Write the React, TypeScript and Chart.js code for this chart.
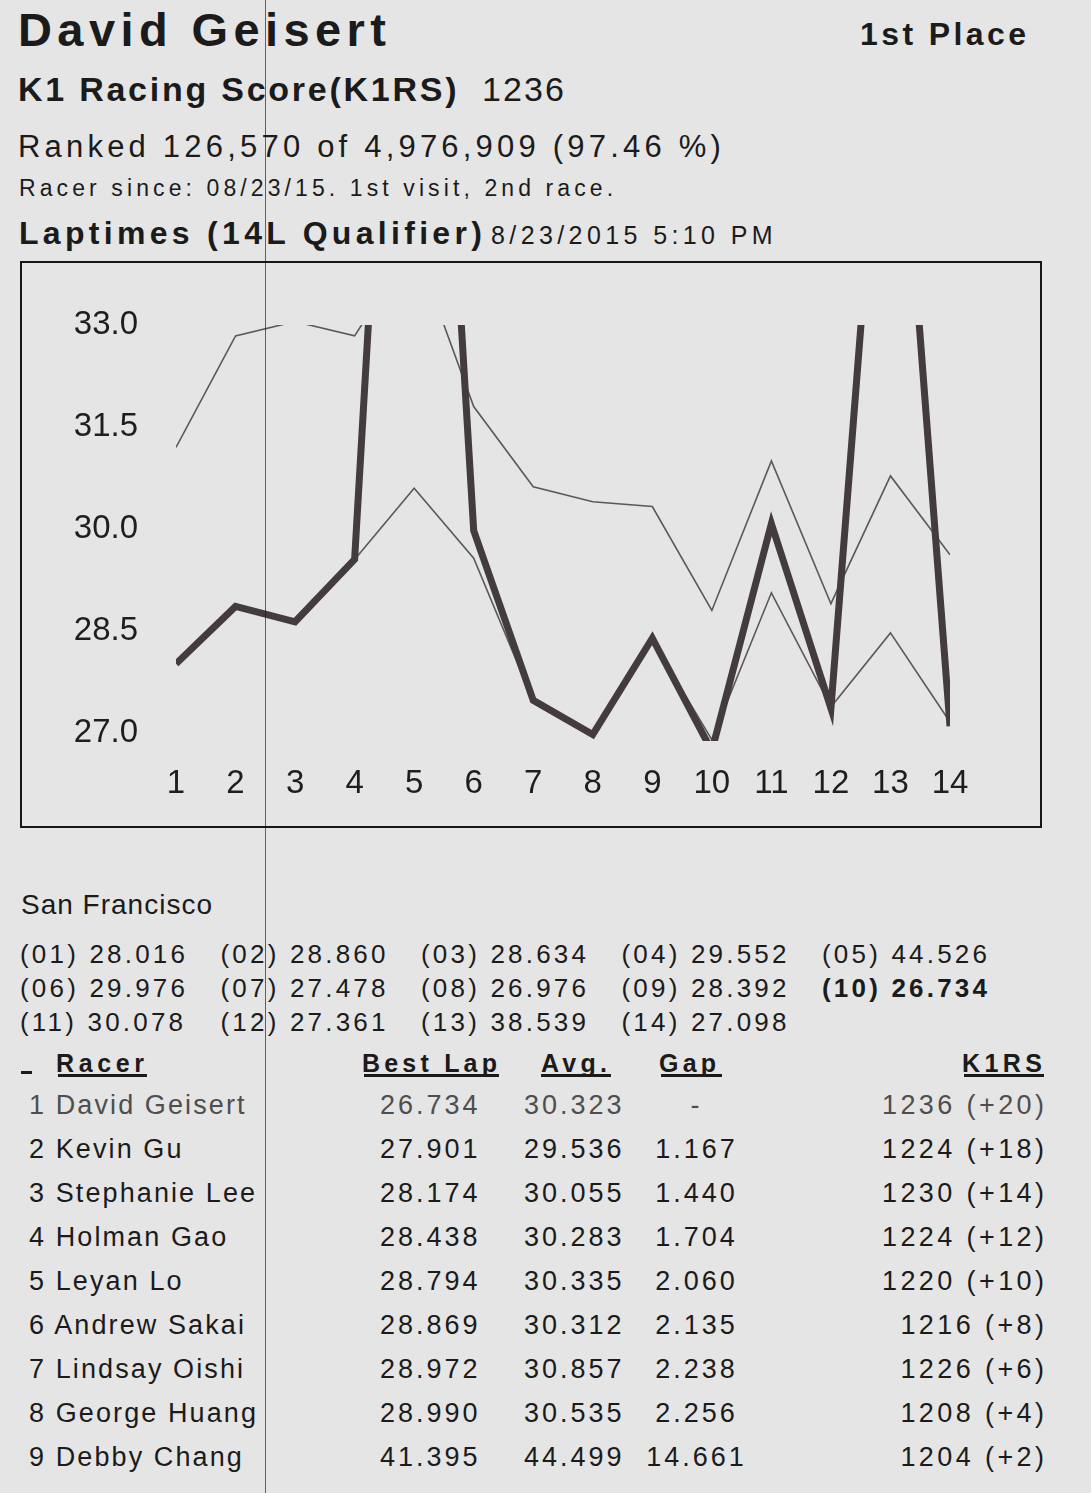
import React, { useEffect, useRef } from "react";
import { Chart, registerables } from "chart.js";

Chart.register(...registerables);

// ---- chart data ----
const lapNumbers = [1, 2, 3, 4, 5, 6, 7, 8, 9, 10, 11, 12, 13, 14];
const geisertLaps = [28.016, 28.86, 28.634, 29.552, 44.526, 29.976, 27.478, 26.976, 28.392, 26.734, 30.078, 27.361, 38.539, 27.098];
const upperThinLaps = [31.2, 32.84, 33.05, 32.84, 34.2, 31.8, 30.62, 30.4, 30.33, 28.8, 31.0, 28.9, 30.78, 29.62];
const lowerThinLaps = [null, null, null, 29.55, 30.6, 29.57, 27.47, 26.98, 28.36, 26.9, 29.06, 27.38, 28.47, 27.16];
const yTickValues = [27.0, 28.5, 30.0, 31.5, 33.0];
const yMin = 26.88;
const yMax = 33.0;

// ---- results table ----
const racerNames = ["David Geisert", "Kevin Gu", "Stephanie Lee", "Holman Gao", "Leyan Lo", "Andrew Sakai", "Lindsay Oishi", "George Huang", "Debby Chang"];
const bestLaps = ["26.734", "27.901", "28.174", "28.438", "28.794", "28.869", "28.972", "28.990", "41.395"];
const avgLaps = ["30.323", "29.536", "30.055", "30.283", "30.335", "30.312", "30.857", "30.535", "44.499"];
const gaps = ["-", "1.167", "1.440", "1.704", "2.060", "2.135", "2.238", "2.256", "14.661"];
const k1rsScores = ["1236 (+20)", "1224 (+18)", "1230 (+14)", "1224 (+12)", "1220 (+10)", "1216 (+8)", "1226 (+6)", "1208 (+4)", "1204 (+2)"];

const FONT = '"Liberation Sans", Arial, sans-serif';
const INK = "#1b1b1b";

type TProps = {
  x: number;
  b: number;
  size: number;
  ls?: number;
  bold?: boolean;
  color?: string;
  align?: "left" | "right" | "center";
  w?: number;
  children: React.ReactNode;
};

function T({ x, b, size, ls = 0, bold = false, color = INK, align = "left", w = 300, children }: TProps) {
  const top = b - 0.847 * size;
  let left = x;
  let width: number | undefined = undefined;
  let paddingLeft = 0;
  if (align === "right") {
    left = x + ls - w;
    width = w;
  } else if (align === "center") {
    left = x - w / 2;
    width = w;
    paddingLeft = ls;
  }
  return (
    <div
      style={{
        position: "absolute",
        left,
        top,
        width,
        paddingLeft,
        boxSizing: "border-box",
        textAlign: align,
        fontFamily: FONT,
        fontSize: size,
        lineHeight: `${size}px`,
        fontWeight: bold ? 700 : 400,
        letterSpacing: ls,
        whiteSpace: "nowrap",
        color,
      }}
    >
      {children}
    </div>
  );
}

function Underline({ x1, x2, y }: { x1: number; x2: number; y: number }) {
  return <div style={{ position: "absolute", left: x1, top: y, width: x2 - x1, height: 3, background: INK }} />;
}

function LapChart() {
  const ref = useRef<HTMLCanvasElement | null>(null);
  useEffect(() => {
    if (!ref.current) return;
    const toPts = (arr: (number | null)[]) => lapNumbers.map((x, i) => ({ x, y: arr[i] }));
    const tickFont = { family: FONT, size: 33 };
    const chart = new Chart(ref.current, {
      type: "line",
      data: {
        datasets: [
          {
            label: "David Geisert",
            data: toPts(geisertLaps) as any,
            borderColor: "#433b3f",
            borderWidth: 7,
            pointRadius: 0,
            tension: 0,
          },
          {
            label: "Upper",
            data: toPts(upperThinLaps) as any,
            borderColor: "#595959",
            borderWidth: 1.6,
            pointRadius: 0,
            tension: 0,
          },
          {
            label: "Lower",
            data: toPts(lowerThinLaps) as any,
            borderColor: "#595959",
            borderWidth: 1.6,
            pointRadius: 0,
            tension: 0,
            spanGaps: false,
          },
        ],
      },
      options: {
        animation: false,
        responsive: false,
        layout: { padding: { left: 0, right: 90, top: 62, bottom: 0 } },
        plugins: { legend: { display: false }, tooltip: { enabled: false } },
        scales: {
          x: {
            type: "linear",
            min: 1,
            max: 14,
            grid: { display: false, drawTicks: false },
            border: { display: false },
            afterBuildTicks: (s: any) => {
              s.ticks = lapNumbers.map((v) => ({ value: v }));
            },
            afterFit: (s: any) => {
              s.height = 85;
            },
            ticks: {
              padding: 23,
              autoSkip: false,
              maxRotation: 0,
              font: tickFont,
              color: "#1e1e1e",
              callback: (v: any) => String(v),
            },
          },
          y: {
            type: "linear",
            min: yMin,
            max: yMax,
            grid: { display: false, drawTicks: false },
            border: { display: false },
            afterBuildTicks: (s: any) => {
              s.ticks = yTickValues.map((v) => ({ value: v }));
            },
            afterFit: (s: any) => {
              s.width = 154;
            },
            ticks: {
              padding: 38,
              autoSkip: false,
              font: tickFont,
              color: "#1e1e1e",
              callback: (v: any) => Number(v).toFixed(1),
            },
          },
        },
      },
    });
    return () => chart.destroy();
  }, []);
  return <canvas ref={ref} width={1018} height={563} style={{ display: "block" }} />;
}

export default function App() {
  const bestIdx = geisertLaps.indexOf(Math.min(...geisertLaps));
  return (
    <div
      style={{
        position: "absolute",
        left: 0,
        top: 0,
        width: 1091,
        height: 1493,
        overflow: "hidden",
        background: "#e5e5e5",
      }}
    >
      <T x={18} b={46} size={47} ls={5.4} bold>
        David Geisert
      </T>
      <T x={860} b={45} size={32} ls={3.4} bold>
        1st Place
      </T>
      <T x={18} b={101} size={34} ls={2.75} bold>
        K1 Racing Score(K1RS)
      </T>
      <T x={482} b={101} size={34} ls={2.1}>
        1236
      </T>
      <T x={18} b={157} size={31} ls={4.2}>
        Ranked 126,570 of 4,976,909 (97.46 %)
      </T>
      <T x={19} b={196} size={23} ls={4.1}>
        Racer since: 08/23/15. 1st visit, 2nd race.
      </T>
      <T x={19} b={244} size={32} ls={4.3} bold>
        Laptimes (14L Qualifier)
      </T>
      <T x={491} b={244} size={25} ls={4.4}>
        8/23/2015 5:10 PM
      </T>

      {/* chart box */}
      <div
        style={{
          position: "absolute",
          left: 20,
          top: 261,
          width: 1022,
          height: 567,
          border: "2px solid #161616",
          boxSizing: "border-box",
        }}
      />
      <div style={{ position: "absolute", left: 22, top: 263, width: 1018, height: 563 }}>
        <LapChart />
      </div>

      <T x={21} b={915} size={28} ls={1.0}>
        San Francisco
      </T>
      {geisertLaps.map((v, i) => (
        <T
          key={i}
          x={20 + (i % 5) * 200.5}
          b={963 + Math.floor(i / 5) * 34}
          size={26}
          ls={3.2}
          bold={i === bestIdx}
        >
          {`(${String(lapNumbers[i]).padStart(2, "0")}) ${v.toFixed(3)}`}
        </T>
      ))}

      {/* table header */}
      <div style={{ position: "absolute", left: 21, top: 1071, width: 11, height: 3, background: INK }} />
      <T x={56} b={1072} size={25} ls={4.6} bold>
        Racer
      </T>
      <T x={362} b={1072} size={25} ls={4.2} bold>
        Best Lap
      </T>
      <T x={541} b={1072} size={25} ls={4.2} bold>
        Avg.
      </T>
      <T x={659} b={1072} size={25} ls={4.2} bold>
        Gap
      </T>
      <T x={962} b={1072} size={25} ls={4.4} bold>
        K1RS
      </T>
      <Underline x1={58} x2={147} y={1074} />
      <Underline x1={364} x2={499} y={1074} />
      <Underline x1={541} x2={611} y={1074} />
      <Underline x1={661} x2={722} y={1074} />
      <Underline x1={964} x2={1044} y={1074} />

      {racerNames.map((name, i) => {
        const b = 1115 + i * 44;
        const color = i === 0 ? "#4e4e4e" : INK;
        return (
          <React.Fragment key={i}>
            <T x={29} b={b} size={27} ls={2.1} color={color}>
              {`${i + 1} ${name}`}
            </T>
            <T x={380} b={b} size={27} ls={3} color={color}>
              {bestLaps[i]}
            </T>
            <T x={524} b={b} size={27} ls={3} color={color}>
              {avgLaps[i]}
            </T>
            <T x={695} b={b} size={27} ls={3} color={color} align="center" w={160}>
              {gaps[i]}
            </T>
            <T x={1044} b={b} size={27} ls={3.4} color={color} align="right" w={240}>
              {k1rsScores[i]}
            </T>
          </React.Fragment>
        );
      })}

      {/* scan line */}
      <div
        style={{
          position: "absolute",
          left: 265,
          top: 0,
          width: 1,
          height: 1493,
          background: "rgba(25,25,25,0.65)",
          zIndex: 5,
        }}
      />
    </div>
  );
}
